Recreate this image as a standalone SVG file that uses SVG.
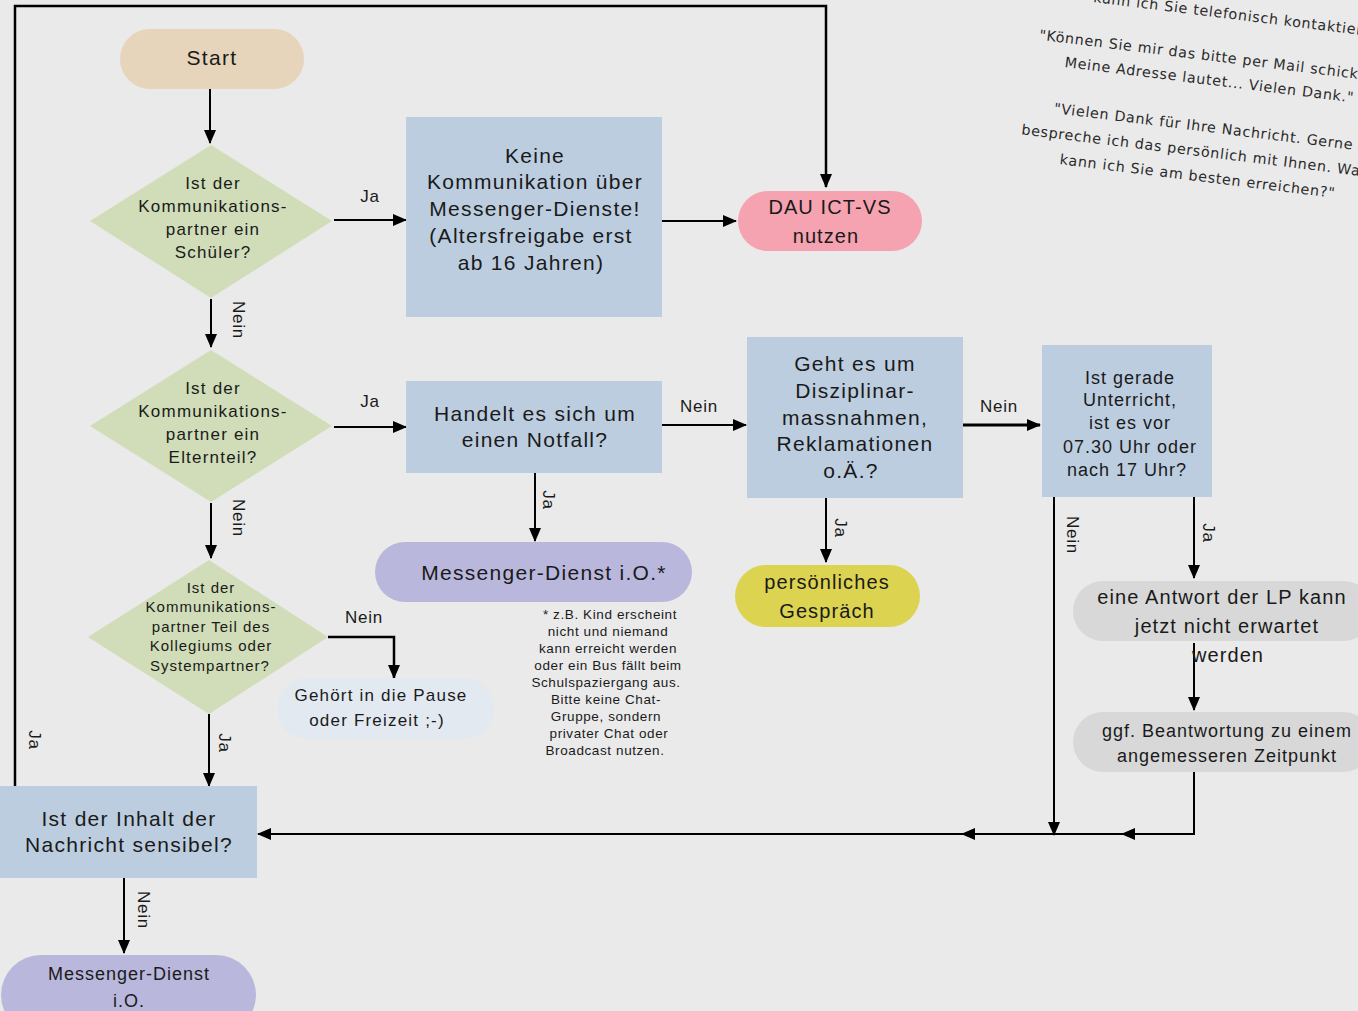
<svg xmlns="http://www.w3.org/2000/svg" width="1358" height="1011" viewBox="0 0 1358 1011">
<style>
text{font-family:"Liberation Sans",Arial,sans-serif;fill:#1a1a1a;text-anchor:middle}
.f22{font-size:21px;letter-spacing:1.3px}
.f20{font-size:20px;letter-spacing:1.1px}
.f18{font-size:18px;letter-spacing:1px}
.f17{font-size:17px;letter-spacing:1.2px}
.f15{font-size:15px;letter-spacing:1px}
.fn{font-size:13.5px;letter-spacing:0.6px}
.lbl{font-size:17px;letter-spacing:0.8px}
.rl{font-size:17px;letter-spacing:0.8px;dominant-baseline:central}
.q{font-family:"DejaVu Sans",sans-serif;font-size:14.3px;letter-spacing:0.7px;fill:#2a2a2a}
.c{fill:none;stroke:#000;stroke-width:2}
.blue{fill:#bccde0}
.dia{fill:#d0ddb8}
</style>
<defs>
<marker id="ah" markerWidth="14" markerHeight="14" refX="13" refY="7" orient="auto" markerUnits="userSpaceOnUse">
<path d="M0,1 L14,7 L0,13 Z" fill="#000"/>
</marker>
<marker id="mid" markerWidth="14" markerHeight="14" refX="7" refY="7" orient="auto" markerUnits="userSpaceOnUse">
<path d="M0,1 L14,7 L0,13 Z" fill="#000"/>
</marker>
</defs>
<rect width="1358" height="1011" fill="#eaeaea"/>

<g id="quotes" transform="translate(1197,181) rotate(7)">
<text class="q" x="-125" y="-165" style="text-anchor:start">kann ich Sie telefonisch kontaktieren?"</text>
<text class="q" x="0" y="-121">"Können Sie mir das bitte per Mail schicken?</text>
<text class="q" x="0" y="-97">Meine Adresse lautet... Vielen Dank."</text>
<text class="q" x="0" y="-50">"Vielen Dank für Ihre Nachricht. Gerne</text>
<text class="q" x="0" y="-25">bespreche ich das persönlich mit Ihnen. Wann</text>
<text class="q" x="0" y="0">kann ich Sie am besten erreichen?"</text>
</g>

<g id="connectors">
<path class="c" d="M15,786 V6 H826 V187" style="stroke-width:2.5" marker-end="url(#ah)"/>
<path class="c" d="M210,89 V143" marker-end="url(#ah)"/>
<path class="c" d="M334,220 H406" marker-end="url(#ah)"/>
<path class="c" d="M662,221 H736" marker-end="url(#ah)"/>
<path class="c" d="M211,299 V347" marker-end="url(#ah)"/>
<path class="c" d="M334,427 H406" marker-end="url(#ah)"/>
<path class="c" d="M662,425 H746" marker-end="url(#ah)"/>
<path class="c" d="M962,425 H1040" style="stroke-width:3" marker-end="url(#ah)"/>
<path class="c" d="M535,473 V541" marker-end="url(#ah)"/>
<path class="c" d="M826,498 V562" marker-end="url(#ah)"/>
<path class="c" d="M211,503 V558" marker-end="url(#ah)"/>
<path class="c" d="M328,637 H394 V678" style="stroke-width:2.5" marker-end="url(#ah)"/>
<path class="c" d="M209,714 V786" marker-end="url(#ah)"/>
<path class="c" d="M1194,497 V578" marker-end="url(#ah)"/>
<path class="c" d="M1194,643 V710" marker-end="url(#ah)"/>
<path class="c" d="M1054,497 V835" marker-end="url(#ah)"/>
<path class="c" d="M1194,772 V834 H1128" marker-end="url(#mid)"/>
<path class="c" d="M1130,834 H968" marker-end="url(#mid)"/>
<path class="c" d="M970,834 H258" marker-end="url(#ah)"/>
<path class="c" d="M124,878 V953" marker-end="url(#ah)"/>
<text class="lbl" x="370" y="202">Ja</text>
<text class="lbl" x="370" y="407">Ja</text>
<text class="lbl" x="699" y="412">Nein</text>
<text class="lbl" x="999" y="412">Nein</text>
<text class="lbl" x="364" y="623">Nein</text>
<text class="rl" transform="translate(238,320) rotate(90)">Nein</text>
<text class="rl" transform="translate(238,518) rotate(90)">Nein</text>
<text class="rl" transform="translate(548,500) rotate(90)">Ja</text>
<text class="rl" transform="translate(840,528) rotate(90)">Ja</text>
<text class="rl" transform="translate(224,743) rotate(90)">Ja</text>
<text class="rl" transform="translate(34,740) rotate(90)">Ja</text>
<text class="rl" transform="translate(1072,535) rotate(90)">Nein</text>
<text class="rl" transform="translate(1208,533) rotate(90)">Ja</text>
<text class="rl" transform="translate(143,910) rotate(90)">Nein</text>
</g>

<g id="start">
<rect x="120" y="29" width="184" height="60" rx="30" fill="#e6d5ba"/>
<text class="f22" x="212" y="65">Start</text>
</g>

<g id="q-schueler">
<polygon class="dia" points="211,145 332,221 211,298 90,221"/>
<text class="f17" x="213" y="189">Ist der</text>
<text class="f17" x="213" y="212">Kommunikations-</text>
<text class="f17" x="213" y="235">partner ein</text>
<text class="f17" x="213" y="258">Schüler?</text>
</g>

<g id="keine">
<rect class="blue" x="406" y="117" width="256" height="200"/>
<text class="f22" x="535" y="163">Keine</text>
<text class="f22" x="535" y="189">Kommunikation über</text>
<text class="f22" x="535" y="216">Messenger-Dienste!</text>
<text class="f22" x="531" y="243">(Altersfreigabe erst</text>
<text class="f22" x="531" y="270">ab 16 Jahren)</text>
</g>

<g id="dau">
<rect x="738" y="191" width="184" height="60" rx="30" fill="#f5a3b0"/>
<text class="f20" x="830" y="214">DAU ICT-VS</text>
<text class="f20" x="826" y="243">nutzen</text>
</g>

<g id="q-eltern">
<polygon class="dia" points="211,350 332,426 211,502 90,426"/>
<text class="f17" x="213" y="394">Ist der</text>
<text class="f17" x="213" y="417">Kommunikations-</text>
<text class="f17" x="213" y="440">partner ein</text>
<text class="f17" x="213" y="463">Elternteil?</text>
</g>

<g id="notfall">
<rect class="blue" x="406" y="381" width="256" height="92"/>
<text class="f22" x="535" y="421">Handelt es sich um</text>
<text class="f22" x="535" y="447">einen Notfall?</text>
</g>

<g id="disziplin">
<rect class="blue" x="747" y="337" width="216" height="161"/>
<text class="f22" x="855" y="371">Geht es um</text>
<text class="f22" x="855" y="398">Disziplinar-</text>
<text class="f22" x="855" y="425">massnahmen,</text>
<text class="f22" x="855" y="451">Reklamationen</text>
<text class="f22" x="851" y="478">o.Ä.?</text>
</g>

<g id="unterricht">
<rect class="blue" x="1042" y="345" width="170" height="152"/>
<text class="f18" x="1130" y="384">Ist gerade</text>
<text class="f18" x="1130" y="406">Unterricht,</text>
<text class="f18" x="1130" y="429">ist es vor</text>
<text class="f18" x="1130" y="453">07.30 Uhr oder</text>
<text class="f18" x="1127" y="476">nach 17 Uhr?</text>
</g>

<g id="messenger-notfall">
<rect x="375" y="542" width="317" height="60" rx="30" fill="#b9b7dc"/>
<text class="f22" x="544" y="580">Messenger-Dienst i.O.*</text>
</g>

<g id="fussnote">
<text class="fn" x="610" y="619">* z.B. Kind erscheint</text>
<text class="fn" x="608" y="636">nicht und niemand</text>
<text class="fn" x="608" y="653">kann erreicht werden</text>
<text class="fn" x="608" y="670">oder ein Bus fällt beim</text>
<text class="fn" x="606" y="687">Schulspaziergang aus.</text>
<text class="fn" x="606" y="704">Bitte keine Chat-</text>
<text class="fn" x="606" y="721">Gruppe, sondern</text>
<text class="fn" x="609" y="738">privater Chat oder</text>
<text class="fn" x="605" y="755">Broadcast nutzen.</text>
</g>

<g id="gespraech">
<rect x="735" y="565" width="185" height="62" rx="31" fill="#dcd351"/>
<text class="f20" x="827" y="589">persönliches</text>
<text class="f20" x="827" y="618">Gespräch</text>
</g>

<g id="q-kollegium">
<polygon class="dia" points="209,560 328,637 209,714 88,637"/>
<text class="f15" x="211" y="593">Ist der</text>
<text class="f15" x="211" y="612">Kommunikations-</text>
<text class="f15" x="211" y="632">partner Teil des</text>
<text class="f15" x="211" y="651">Kollegiums oder</text>
<text class="f15" x="210" y="671">Systempartner?</text>
</g>

<g id="pause">
<rect x="277" y="678" width="217" height="61" rx="30" fill="#e2e9f0"/>
<text class="f17" x="381" y="701">Gehört in die Pause</text>
<text class="f17" x="377" y="726">oder Freizeit ;-)</text>
</g>

<g id="antwort">
<rect x="1073" y="581" width="300" height="60" rx="30" fill="#d8d8d8"/>
<text class="f20" x="1222" y="604">eine Antwort der LP kann</text>
<text class="f20" x="1227" y="633">jetzt nicht erwartet</text>
<text class="f20" x="1228" y="662">werden</text>
</g>

<g id="beantwortung">
<rect x="1073" y="712" width="300" height="60" rx="30" fill="#d8d8d8"/>
<text class="f18" x="1227" y="737">ggf. Beantwortung zu einem</text>
<text class="f18" x="1227" y="762">angemesseren Zeitpunkt</text>
</g>

<g id="sensibel">
<rect class="blue" x="0" y="786" width="257" height="92"/>
<text class="f22" x="129" y="826">Ist der Inhalt der</text>
<text class="f22" x="129" y="852">Nachricht sensibel?</text>
</g>

<g id="messenger-ok">
<rect x="1" y="955" width="255" height="80" rx="40" fill="#b9b7dc"/>
<text class="f18" x="129" y="980">Messenger-Dienst</text>
<text class="f18" x="129" y="1007">i.O.</text>
</g>
</svg>
